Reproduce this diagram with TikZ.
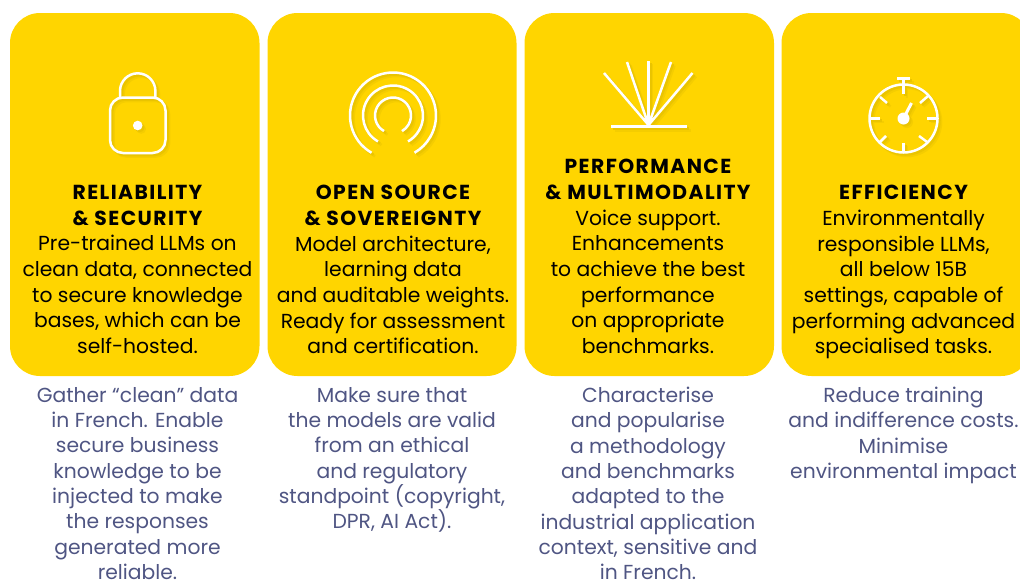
\documentclass[tikz,border=0pt]{standalone}
\usepackage{fontspec}
\setmainfont{Poppins}
\definecolor{cardyellow}{HTML}{FFD500}
\definecolor{slatetext}{HTML}{4F5583}
\definecolor{iconshadow}{HTML}{EAC400}
\definecolor{iconshadowlight}{HTML}{F5CD00}
\tikzset{
  x=1pt,y=-1pt,
  card/.style={fill=cardyellow,draw=none,rounded corners=30pt},
  ink/.style={line width=2.5pt,line cap=butt},
  cardtext/.style={inner sep=0pt,align=center,text=black,anchor=north,
    font=\fontsize{20.3}{25.7}\selectfont},
  lowtext/.style={cardtext,text=slatetext,font=\fontsize{20.3}{25.3}\selectfont},
}
\newcommand{\hd}[1]{{\bfseries\addfontfeatures{LetterSpace=7}#1}}
\newcommand{\iconlock}[1]{%
  \draw[ink,#1] (120,97.5) -- (120,91) arc[start angle=180,end angle=360,radius=17.7] -- (155.4,97.5);
  \draw[ink,#1,rounded corners=13pt] (110,97.5) rectangle (165.5,153);
  \fill[#1] (137.7,125.5) circle[radius=4.8];
}
\newcommand{\iconrings}[1]{%
  \foreach \r in {43,30,18}
    \draw[ink,#1] ([shift={(120:\r)}]393,115.5) arc[start angle=120,end angle=420,radius=\r];
}
\newcommand{\iconburst}[1]{%
  \draw[ink,#1,line width=3pt] (611,126.7) -- (687,126.7);
  \foreach \px/\py in {604/73,627/62,648.5/60.5,671/62,692.5/73}
    \draw[ink,#1] (648.5,125) -- (\px,\py);
  \fill[#1] (648.5,127) -- (643,118) -- (654,118) -- cycle;
}
\newcommand{\iconwatch}[1]{%
  \draw[ink,#1] (903.5,118.5) circle[radius=34];
  \draw[ink,#1,line width=3pt] (897,78.7) -- (910,78.7);
  \draw[ink,#1] (903.5,78.7) -- (903.5,94);
  \draw[ink,#1] (869.5,118.5) -- (880,118.5);
  \draw[ink,#1] (927,118.5) -- (937.5,118.5);
  \draw[ink,#1] (903.5,142.5) -- (903.5,152.5);
  \draw[ink,#1] (880,97) -- (887,103);
  \draw[ink,#1] (928,96) -- (920,103);
  \draw[ink,#1] (886,136) -- (880,142);
  \draw[ink,#1] (919,136) -- (927,142);
  \draw[ink,#1,line width=3pt] (903.5,118.5) -- (911.5,103);
  \fill[#1] (903.5,118.5) circle[radius=6];
}
\begin{document}
\begin{tikzpicture}
\useasboundingbox (0,0) rectangle (1020,582);
\clip (0,0) rectangle (1020,582);
\path[card] (10,13) rectangle (259.5,376);
\path[card] (267.5,13) rectangle (516.5,376);
\path[card] (524.5,13) rectangle (774,376);
\path[card] (781.5,13) rectangle (1031,376);
\begin{scope}[shift={(3.5,3.5)}]
  \iconlock{iconshadowlight}\iconrings{iconshadowlight}\iconburst{iconshadowlight}\iconwatch{iconshadowlight}
\end{scope}
\begin{scope}[shift={(2,2)}]
  \iconlock{iconshadow}\iconrings{iconshadow}\iconburst{iconshadow}\iconwatch{iconshadow}
\end{scope}
\iconlock{white}\iconrings{white}\iconburst{white}\iconwatch{white}

\node[cardtext] (t1) at (137.5,185) {\hd{RELIABILITY}\\\hd{\& SECURITY}\\Pre-trained LLMs on\\clean data, connected\\to secure knowledge\\bases, which can be\\self-hosted.};
\node[cardtext] (t2) at (393,185) {\hd{OPEN SOURCE}\\\hd{\& SOVEREIGNTY}\\Model architecture,\\learning data\\and auditable weights.\\Ready for assessment\\and certification.};
\node[cardtext] (t3) at (648,159) {\hd{PERFORMANCE}\\\hd{\& MULTIMODALITY}\\Voice support.\\Enhancements\\to achieve the best\\performance\\on appropriate\\benchmarks.};
\node[cardtext] (t4) at (903.5,185) {\hd{EFFICIENCY}\\Environmentally\\responsible LLMs,\\all below 15B\\settings, capable of\\performing advanced\\specialised tasks.};

\node[lowtext] (l1) at (137.5,387) {Gather “clean” data\\in French. Enable\\secure business\\knowledge to be\\injected to make\\the responses\\generated more\\reliable.};
\node[lowtext] (l2) at (392,387) {Make sure that\\the models are valid\\from an ethical\\and regulatory\\standpoint (copyright,\\DPR, AI Act).};
\node[lowtext] (l3) at (648,387) {Characterise\\and popularise\\a methodology\\and benchmarks\\adapted to the\\industrial application\\context, sensitive and\\in French.};
\node[lowtext] (l4) at (903.5,387) {Reduce training\\and indifference costs.\\Minimise\\environmental impact};
\end{tikzpicture}
\end{document}
